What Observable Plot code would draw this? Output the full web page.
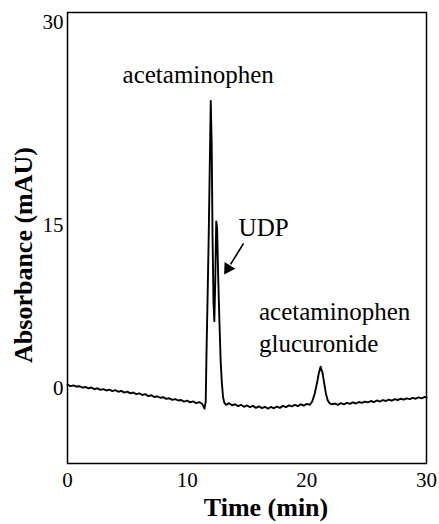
<!DOCTYPE html>
<html><head><meta charset="utf-8">
<script src="https://cdn.jsdelivr.net/npm/d3@7"></script>
<script src="https://cdn.jsdelivr.net/npm/@observablehq/plot@0.6"></script>
<style>body{margin:0;background:#fff}</style>
</head><body><div id="chart"></div>
<script>
// Chromatogram trace (time in min, absorbance in mAU)
const time = [0,0.25,0.5,0.75,1,1.25,1.5,1.75,2,2.25,2.5,2.75,3,3.25,3.5,3.75,4,4.25,4.5,4.75,5,5.25,5.5,5.75,6,6.25,6.5,6.75,7,7.25,7.5,7.75,8,8.25,8.5,8.75,9,9.25,9.5,9.75,10,10.25,10.5,10.75,11,11.25,11.45,11.55,11.62,11.7,11.8,11.9,11.97,12.05,12.12,12.2,12.27,12.35,12.43,12.5,12.6,12.7,12.8,12.9,13,13.1,13.25,13.5,13.75,14,14.25,14.5,14.75,15,15.25,15.5,15.75,16,16.25,16.5,16.75,17,17.25,17.5,17.75,18,18.25,18.5,18.75,19,19.25,19.5,19.75,20,20.25,20.45,20.65,20.85,21,21.15,21.3,21.45,21.6,21.75,21.9,22.1,22.35,22.6,22.85,23.1,23.35,23.6,23.85,24.1,24.35,24.6,24.85,25.1,25.35,25.6,25.85,26.1,26.35,26.6,26.85,27.1,27.35,27.6,27.85,28.1,28.35,28.6,28.85,29.1,29.35,29.6,29.85,30];
const absorbance = [0.35,0.22,0.28,0.18,0.21,0.08,0.14,0.02,0.09,-0.05,0.02,-0.12,-0.06,-0.18,-0.10,-0.24,-0.15,-0.30,-0.22,-0.38,-0.29,-0.45,-0.37,-0.52,-0.44,-0.60,-0.52,-0.70,-0.62,-0.78,-0.72,-0.85,-0.80,-0.95,-0.90,-1.05,-0.98,-1.10,-1.06,-1.20,-1.12,-1.28,-1.18,-1.34,-1.26,-1.40,-1.85,-1.2,3.5,8,14,20,24.2,21,14,8,6.2,10,15.3,14.8,10,6,2.5,0.5,-0.8,-1.3,-1.5,-1.35,-1.55,-1.45,-1.62,-1.5,-1.68,-1.56,-1.72,-1.6,-1.78,-1.65,-1.8,-1.68,-1.85,-1.7,-1.82,-1.66,-1.78,-1.6,-1.72,-1.55,-1.65,-1.5,-1.62,-1.45,-1.58,-1.42,-1.5,-1.2,-0.5,0.5,1.4,2.0,1.5,0.5,-0.5,-1.1,-1.35,-1.45,-1.38,-1.5,-1.35,-1.46,-1.32,-1.42,-1.28,-1.38,-1.24,-1.32,-1.2,-1.28,-1.15,-1.25,-1.1,-1.2,-1.06,-1.15,-1.02,-1.12,-0.98,-1.06,-0.94,-1.02,-0.9,-0.98,-0.86,-0.94,-0.82,-0.9,-0.78,-0.85];

const xTicks = [0, 10, 20, 30];
const yTicks = [0, 15, 30];

// Peak annotations (label text with its anchor in data units)
const labelText = ["acetaminophen", "UDP", "acetaminophen", "glucuronide"];
const labelTime = [4.6, 14.3, 16.0, 16.0];
const labelAbs = [26.1, 14.8, 7.0, 4.05];

// UDP arrow (data units)
const arrowFrom = [14.71, 13.34];
const arrowTo = [13.2, 10.68];

const trace = time.map((t, i) => ({t, a: absorbance[i]}));
const labels = labelText.map((s, i) => ({s, t: labelTime[i], a: labelAbs[i]}));

// The original axis is stretched above 15 mAU (piecewise linear).
const k = 1.245;
const warp = v => v <= 15 ? v : 15 + (v - 15) * k;
const unwarp = w => w <= 15 ? w : 15 + (w - 15) / k;

const ux = arrowTo[0] - arrowFrom[0], uy = arrowTo[1] - arrowFrom[1];

const chart = Plot.plot({
  width: 439,
  height: 524,
  marginTop: 12,
  marginBottom: 61,
  marginLeft: 67,
  marginRight: 13,
  style: {fontFamily: "'Liberation Serif', 'Times New Roman', serif", fontSize: "21px", color: "#000", background: "#fff"},
  x: {domain: [0, 30]},
  y: {domain: [-6.9, warp(30.74)], transform: warp},
  marks: [
    Plot.axisX({ticks: xTicks, tickSize: 0, tickPadding: 9, label: null, fontSize: 21}),
    Plot.axisY({ticks: yTicks.map(warp), tickFormat: w => String(Math.round(unwarp(w))), tickSize: 0, tickPadding: 4, label: null, fontSize: 21}),
    Plot.line(trace, {x: "t", y: "a", stroke: "#000", strokeWidth: 1.9}),
    Plot.text(labels, {x: "t", y: "a", text: "s", textAnchor: "start", fontSize: 25, fill: "#000"}),
    Plot.link([0], {x1: () => arrowFrom[0], y1: () => arrowFrom[1], x2: () => arrowFrom[0] + ux * 0.72, y2: () => arrowFrom[1] + uy * 0.72, stroke: "#000", strokeWidth: 1.6}),
    Plot.dot([0], {x: () => arrowFrom[0] + ux * 0.86, y: () => arrowFrom[1] + uy * 0.86, symbol: "triangle2", r: 6, fill: "#000", rotate: 212}),
    Plot.text(["Absorbance (mAU)"], {text: d => d, frameAnchor: "left", textAnchor: "middle", lineAnchor: "middle", rotate: -90, dx: -44, dy: 17, fontSize: 26, fontWeight: "bold", fill: "#000"}),
    Plot.text(["Time (min)"], {text: d => d, frameAnchor: "bottom", textAnchor: "middle", lineAnchor: "middle", dx: 19, dy: 44, fontSize: 26, fontWeight: "bold", fill: "#000"}),
    Plot.frame({stroke: "#000", strokeWidth: 1.5})
  ]
});
document.getElementById("chart").appendChild(chart);
</script>
</body></html>
